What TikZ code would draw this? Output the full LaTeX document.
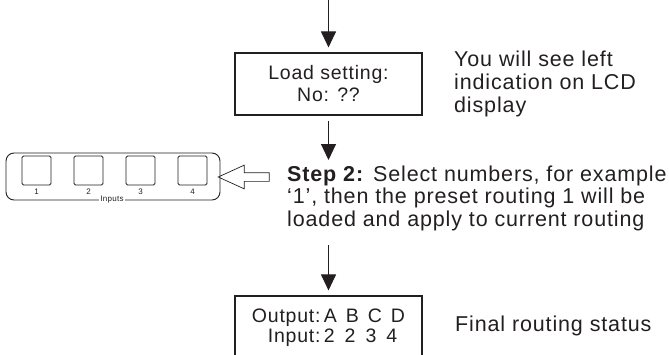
\documentclass[tikz,border=0pt]{standalone}
\usepackage{fontspec}
\setmainfont{Liberation Sans}[LetterSpace=4]
\usetikzlibrary{arrows.meta,shapes.arrows}
\definecolor{ink}{RGB}{35,31,32}
\tikzset{
  flowarrow/.style={draw=ink, line width=1pt, -{Triangle[length=16pt,width=15pt]}, shorten >=5pt},
  lcdbox/.style={draw=ink, line width=1.1pt, minimum width=187pt, inner sep=0pt},
  keybox/.style={draw=ink, line width=0.8pt, rounded corners=1.5pt, minimum width=29pt, minimum height=29pt, inner sep=0pt},
  smalltext/.style={font=\fontsize{8}{9}\selectfont, text=ink},
  bigtext/.style={font=\fontsize{21.5}{23}\selectfont, text=ink, align=left, inner sep=0pt}
}
\begin{document}
\begin{tikzpicture}[x=1pt, y=-1pt]
    \path[use as bounding box, clip] (0,0) rectangle (669,354);

    % LCD: load setting
    \coordinate (top) at (328.5,0);
    \node[lcdbox, minimum height=62pt, align=center, font=\fontsize{19.5}{22}\selectfont, text=ink] (load) at (328.5,84) {Load setting:\\No: ??};
    \draw[flowarrow] (top) -- (load.north);
    \node[bigtext, anchor=west] (seeleft) at (454,84) {You will see left\\indication on LCD\\display};

    % Step 2
    \coordinate (steptop) at (328.5,165);
    \draw[flowarrow, shorten <=5pt] (load.south) -- (steptop);
    \node[bigtext, anchor=west, font=\fontsize{21.5}{22.5}\selectfont] (step) at (287,198)
      {\textbf{Step 2:} Select numbers, for example\\`1', then the preset routing 1 will be\\loaded and apply to current routing};

    % Input keys
    \node[draw=ink, line width=0.9pt, rounded corners=8pt, minimum width=214pt, minimum height=47pt] (inputs) at (113,176.5) {};
    \foreach \k in {1,...,4} {
      \node[keybox] (key\k) at (-15.5+52*\k,170.5) {};
      \node[smalltext, inner sep=0pt] at (-15.5+52*\k,192) {\k};
    }
    \node[smalltext, fill=white, inner sep=1.5pt] (inlabel) at (112,200) {Inputs};
    \node[single arrow, draw=ink, line width=0.7pt, shape border rotate=180, minimum height=51pt,
          inner sep=4pt, single arrow head extend=7.5pt, single arrow tip angle=49] (hollow) at (248.5,177) {};

    % LCD: final status
    \coordinate (endtop) at (328.5,245);
    \node[lcdbox, minimum height=64pt, font=\fontsize{19.5}{20}\selectfont, text=ink] (status) at (328.5,328)
      {\begin{tabular}{@{}r@{\,}l@{}}Output: & A\hspace{9pt}B\hspace{9pt}C\hspace{9pt}D\\Input: & 2\hspace{10pt}2\hspace{10pt}3\hspace{10pt}4\end{tabular}};
    \draw[flowarrow] (endtop) -- (status.north);
    \node[bigtext, anchor=west] (final) at (455,326) {Final routing status};
\end{tikzpicture}
\end{document}
